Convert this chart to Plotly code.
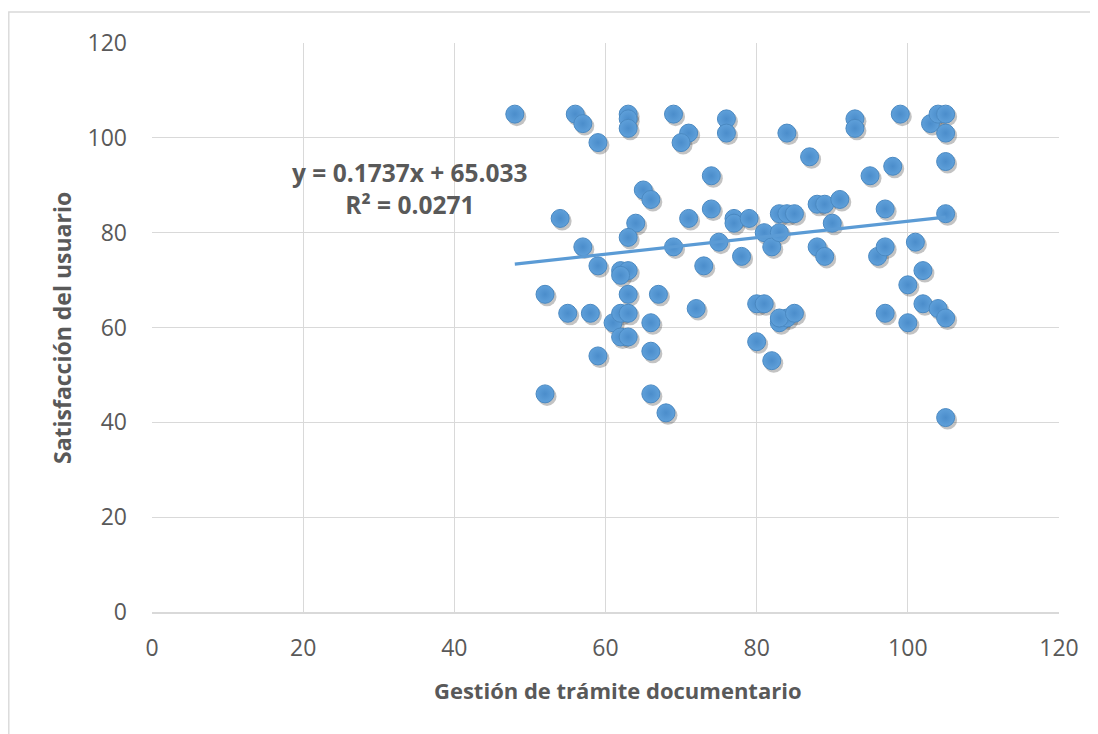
import plotly.graph_objects as go

# Data: (Gestión de trámite documentario, Satisfacción del usuario)
gestion = [48, 56, 57, 59, 63, 63, 63, 69, 71, 70, 76, 76, 84, 87, 93, 93, 99, 103, 104, 105, 105, 105,
           54, 57, 59, 65, 66, 64, 63, 74, 74, 71, 69, 75, 77, 77, 79, 78, 81, 82, 83, 84, 85, 83,
           88, 89, 91, 90, 88, 89, 95, 98, 97, 96, 97, 105, 101, 102,
           52, 55, 58, 61, 62, 63, 62, 63, 62, 63, 62, 63, 66, 67, 59, 66, 52, 66, 68, 72, 73,
           80, 81, 80, 82, 83, 84, 83, 85, 100, 97, 100, 102, 104, 105, 105]
satisfaccion = [105, 105, 103, 99, 105, 104, 102, 105, 101, 99, 104, 101, 101, 96, 104, 102, 105, 103, 105, 105, 101, 95,
                83, 77, 73, 89, 87, 82, 79, 92, 85, 83, 77, 78, 83, 82, 83, 75, 80, 77, 84, 84, 84, 80,
                86, 86, 87, 82, 77, 75, 92, 94, 85, 75, 77, 84, 78, 72,
                67, 63, 63, 61, 72, 72, 71, 67, 63, 63, 58, 58, 61, 67, 54, 55, 46, 46, 42, 64, 73,
                65, 65, 57, 53, 61, 62, 62, 63, 69, 63, 61, 65, 64, 62, 41]

slope = 0.1737
intercept = 65.033
r2 = 0.0271

x_ticks = [0, 20, 40, 60, 80, 100, 120]
y_ticks = [0, 20, 40, 60, 80, 100, 120]

x_title = "Gestión de trámite documentario"
y_title = "Satisfacción del usuario"

FONT = "Open Sans"
GRAY = "#595959"
BLUE = "#5B9BD5"

# screen geometry (page has an 8px body margin)
W, H = 1098, 734
PX0, PY0, PX1, PY1 = 152, 43, 1059, 612  # plot area on screen
OFF = 8
L, T = PX0 - OFF, PY0 - OFF
R, B = W - PX1 + OFF, H - PY1 + OFF
pw, ph = PX1 - PX0, PY1 - PY0

fx = lambda px: (px - PX0) / pw
fy = lambda py: (PY1 - py) / ph

x_line = [min(gestion), max(gestion)]
y_line = [slope * v + intercept for v in x_line]

# soft drop shadow under markers (offset of ~2px right, ~2.5px down)
sdx = 2.0 * 120 / pw
sdy = 2.5 * 120 / ph

fig = go.Figure()
fig.add_trace(go.Scatter(
    x=[v + sdx for v in gestion], y=[v - sdy for v in satisfaccion], mode="markers",
    marker=dict(size=19, color="rgba(40,40,40,0.28)", line=dict(width=0)),
    showlegend=False, hoverinfo="skip"))
fig.add_trace(go.Scatter(
    x=gestion, y=satisfaccion, mode="markers",
    marker=dict(size=18, color="#5FA0DA", line=dict(width=1, color="#4A89C2"),
                gradient=dict(type="radial", color="#4B8DCB")),
    showlegend=False, hoverinfo="x+y"))
fig.add_trace(go.Scatter(
    x=x_line, y=y_line, mode="lines",
    line=dict(color=BLUE, width=3.2), showlegend=False, hoverinfo="skip"))

fig.add_annotation(
    x=(410 - PX0) * 120 / pw, y=(PY1 - 188) * 120 / ph, xref="x", yref="y",
    text=f"<b>y = {slope}x + {intercept}</b><br><b>R² = {r2}</b>",
    showarrow=False, font=dict(family=FONT, size=24.5, color=GRAY),
    align="center", xanchor="center", yanchor="middle")

# axis titles
fig.add_annotation(
    x=fx(618), y=fy(690), xref="paper", yref="paper", text=f"<b>{x_title}</b>",
    showarrow=False, font=dict(family=FONT, size=22, color=GRAY),
    xanchor="center", yanchor="middle")
fig.add_annotation(
    x=fx(62), y=fy(328), xref="paper", yref="paper", text=f"<b>{y_title}</b>",
    showarrow=False, textangle=-90, font=dict(family=FONT, size=23, color=GRAY),
    xanchor="center", yanchor="middle")

# outer chart border (left and top edges)
fig.add_shape(type="path", xref="paper", yref="paper",
              path=f"M {fx(8.8)} {fy(760)} L {fx(8.8)} {fy(12)} L {fx(1120)} {fy(12)}",
              line=dict(color="#D9D9D9", width=1.4), layer="below")

fig.update_layout(
    width=W, height=H,
    margin=dict(l=L, r=R, t=T, b=B),
    paper_bgcolor="white", plot_bgcolor="white",
    font=dict(family=FONT, color=GRAY),
    xaxis=dict(range=[0, 120], tickvals=x_ticks, showgrid=True, gridcolor="#D9D9D9", gridwidth=1.4,
               zeroline=False, showline=True, linecolor="#D9D9D9", linewidth=2, mirror=False,
               ticks="", tickfont=dict(size=23, color=GRAY, family=FONT), ticklabelstandoff=14),
    yaxis=dict(range=[0, 120], tickvals=y_ticks, showgrid=True, gridcolor="#D9D9D9", gridwidth=1.4,
               zeroline=False, showline=False, ticks="", ticklabelstandoff=24,
               tickfont=dict(size=23, color=GRAY, family=FONT)),
)

fig.write_html("out.html")
